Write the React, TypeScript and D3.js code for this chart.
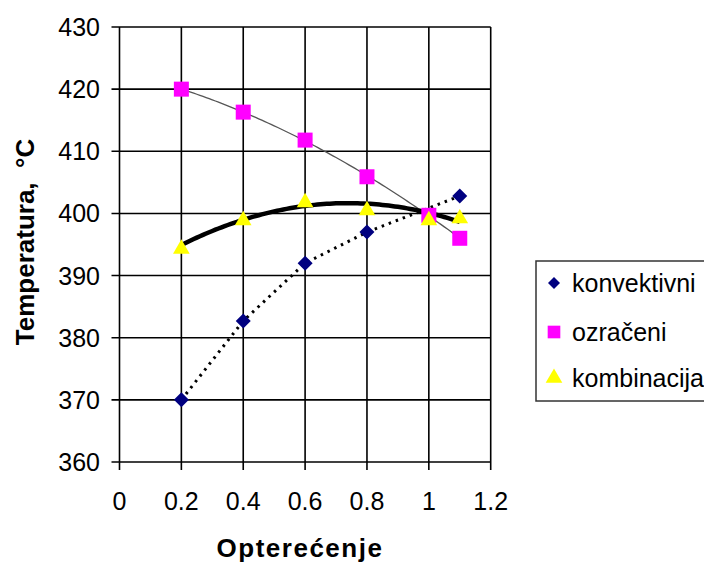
import * as d3 from "d3";

const LOADS = [0.2, 0.4, 0.6, 0.8, 1.0, 1.1];
const konvLoads = [0.2, 0.4, 0.6, 0.8, 1.1];
const konvektivni = [370, 382.7, 392, 397, 402.8];
const ozraceni = [420, 416.3, 411.8, 405.9, 399.7, 396];
const kombinacija = [394.6, 399.2, 402.1, 400.8, 399.2, 399.5];
const X_TICKS = [0, 0.2, 0.4, 0.6, 0.8, 1, 1.2];
const Y_TICKS = [360, 370, 380, 390, 400, 410, 420, 430];

const FONT = "'Liberation Sans', Arial, sans-serif";

// quadratic least squares trendline, like Excel's polynomial trend
function quadFit(xs: number[], ys: number[]) {
  const s = [0, 0, 0, 0, 0];
  const t = [0, 0, 0];
  xs.forEach((x, i) => {
    for (let k = 0; k < 5; k++) s[k] += Math.pow(x, k);
    for (let k = 0; k < 3; k++) t[k] += ys[i] * Math.pow(x, k);
  });
  const m = [
    [s[0], s[1], s[2], t[0]],
    [s[1], s[2], s[3], t[1]],
    [s[2], s[3], s[4], t[2]],
  ];
  for (let i = 0; i < 3; i++) {
    for (let j = i + 1; j < 3; j++) {
      const f = m[j][i] / m[i][i];
      for (let k = i; k < 4; k++) m[j][k] -= f * m[i][k];
    }
  }
  const c = [0, 0, 0];
  for (let i = 2; i >= 0; i--) {
    let v = m[i][3];
    for (let k = i + 1; k < 3; k++) v -= m[i][k] * c[k];
    c[i] = v / m[i][i];
  }
  return (x: number) => c[0] + c[1] * x + c[2] * x * x;
}

export default function App() {
  const x = d3.scaleLinear().domain([0, 1.2]).range([119.5, 490.7]);
  const y = d3.scaleLinear().domain([360, 430]).range([462, 27]);

  const line = d3
    .line<[number, number]>()
    .x((d) => x(d[0]))
    .y((d) => y(d[1]));

  const samples = d3.range(0.2, 1.1001, 0.01);
  const ozrFit = quadFit(LOADS, ozraceni);
  const kombFit = quadFit(LOADS, kombinacija);

  // excel-style diamond: a square turned 45 degrees
  const diamond = "M0,-7.5L7.5,0L0,7.5L-7.5,0Z";
  const square = d3.symbol(d3.symbolSquare, 225)();
  const triangle = d3.symbol(d3.symbolTriangle, 120)();

  const legend = [
    { label: "konvektivni", path: "M0,-6L6,0L0,6L-6,0Z", color: "#000080", cy: 283 },
    { label: "ozračeni", path: d3.symbol(d3.symbolSquare, 160)(), color: "#ff00ff", cy: 332 },
    { label: "kombinacija", path: triangle, color: "#ffff00", cy: 378 },
  ];

  return (
    <svg width={704} height={565} style={{ position: "absolute", left: 0, top: 0, background: "#fff" }}>
      {/* grid */}
      {X_TICKS.map((t) => (
        <line key={"gx" + t} x1={x(t)} x2={x(t)} y1={y(430)} y2={y(360) + 8} stroke="#000" strokeWidth={1.6} />
      ))}
      {Y_TICKS.map((t) => (
        <line key={"gy" + t} x1={x(0) - 8} x2={x(1.2)} y1={y(t)} y2={y(t)} stroke="#000" strokeWidth={1.6} />
      ))}

      {/* tick labels */}
      {Y_TICKS.map((t) => (
        <text key={"ly" + t} x={100} y={y(t) + 9} textAnchor="end" fontSize={25} fontFamily={FONT} fill="#000">
          {t}
        </text>
      ))}
      {X_TICKS.map((t) => (
        <text key={"lx" + t} x={x(t)} y={510} textAnchor="middle" fontSize={25} fontFamily={FONT} fill="#000">
          {t}
        </text>
      ))}

      {/* trend lines */}
      <path
        d={line(samples.map((v) => [v, ozrFit(v)] as [number, number])) || ""}
        fill="none"
        stroke="#555"
        strokeWidth={1.3}
      />
      <path
        d={line(konvLoads.map((v, i) => [v, konvektivni[i]] as [number, number])) || ""}
        fill="none"
        stroke="#000"
        strokeWidth={3}
        strokeDasharray="2.5,5"
      />
      <path
        d={line(samples.map((v) => [v, kombFit(v)] as [number, number])) || ""}
        fill="none"
        stroke="#000"
        strokeWidth={4.5}
      />

      {/* markers */}
      {konvLoads.map((v, i) => (
        <path key={"k" + i} d={diamond} transform={`translate(${x(v)},${y(konvektivni[i])})`} fill="#000080" />
      ))}
      {LOADS.map((v, i) => (
        <path key={"o" + i} d={square || ""} transform={`translate(${x(v)},${y(ozraceni[i])})`} fill="#ff00ff" />
      ))}
      {LOADS.map((v, i) => (
        <path key={"c" + i} d={triangle || ""} transform={`translate(${x(v)},${y(kombinacija[i]) + 2})`} fill="#ffff00" />
      ))}

      {/* axis titles */}
      <text
        transform={`translate(34,242) rotate(-90)`}
        textAnchor="middle"
        fontSize={26}
        fontWeight="bold"
        fontFamily={FONT}
        fill="#000"
        style={{ whiteSpace: "pre" }}
      >
        {"Temperatura,  °C"}
      </text>
      <text
        x={300}
        y={557}
        textAnchor="middle"
        fontSize={26}
        fontWeight="bold"
        fontFamily={FONT}
        letterSpacing={1.5}
        fill="#000"
      >
        Opterećenje
      </text>

      {/* legend */}
      <rect x={536} y={261} width={200} height={140} fill="#fff" stroke="#333" strokeWidth={1.5} />
      {legend.map((l) => (
        <g key={l.label}>
          <path d={l.path || ""} transform={`translate(554,${l.cy})`} fill={l.color} />
          <text x={572} y={l.cy + 9} fontSize={25} fontFamily={FONT} fill="#000">
            {l.label}
          </text>
        </g>
      ))}
    </svg>
  );
}
